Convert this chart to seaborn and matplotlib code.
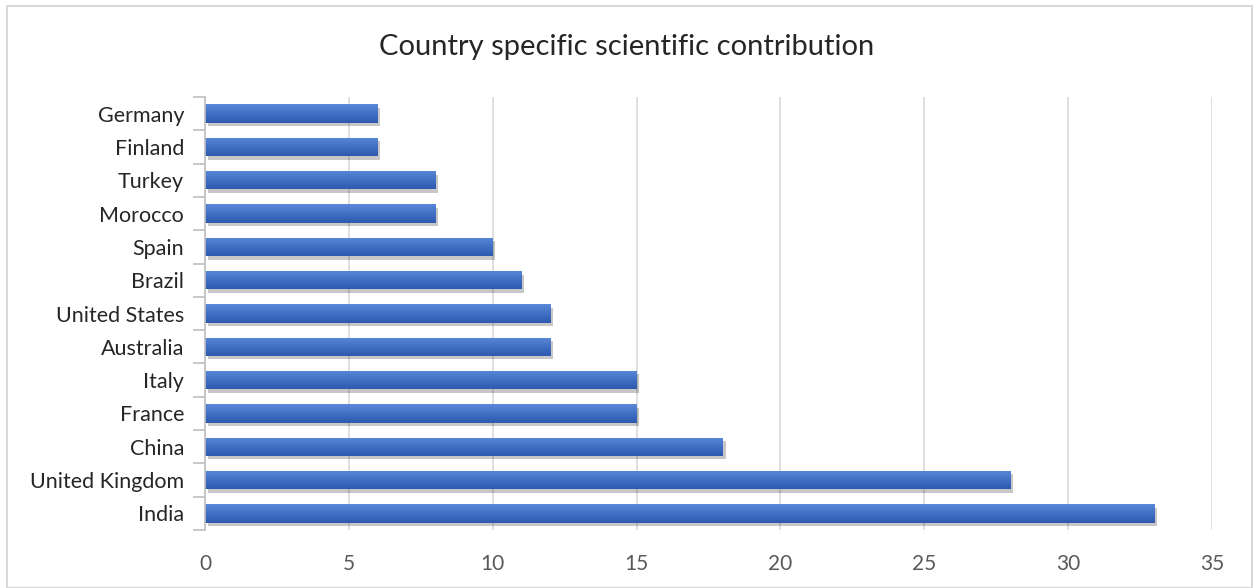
import numpy as np
import pandas as pd
import matplotlib
matplotlib.use("Agg")
import matplotlib.pyplot as plt
import matplotlib.patheffects as pe
from matplotlib.colors import LinearSegmentedColormap
import seaborn as sns

countries = ["Germany", "Finland", "Turkey", "Morocco", "Spain", "Brazil",
             "United States", "Australia", "Italy", "France", "China",
             "United Kingdom", "India"]
contributions = [6, 6, 8, 8, 10, 11, 12, 12, 15, 15, 18, 28, 33]
x_ticks = [0, 5, 10, 15, 20, 25, 30, 35]
title = "Country specific scientific contribution"

df = pd.DataFrame({"country": countries, "contribution": contributions})

sns.set_theme(style="white")
plt.rcParams["font.family"] = ["Lato", "DejaVu Sans"]

fig = plt.figure(figsize=(12.53, 5.88), dpi=100)
ax = fig.add_axes([205 / 1253, 1 - 530 / 588, (1212 - 205) / 1253, (530 - 97) / 588])

sns.barplot(data=df, x="contribution", y="country", orient="h",
            color="#4472C4", width=0.55, saturation=1, linewidth=0, ax=ax)

# gradient fill (lighter on top) + soft shadow on each bar
grad = LinearSegmentedColormap.from_list("g", ["#5B88D7", "#4170C4", "#2E5AAF"])
for p in list(ax.patches):
    p.set_linewidth(0)
    p.set_path_effects([pe.SimplePatchShadow(offset=(2, -2.5), shadow_rgbFace="#000000", alpha=0.22),
                        pe.Normal()])
    x0, y0 = p.get_x(), p.get_y()
    w, h = p.get_width(), p.get_height()
    # y axis is inverted: y0 is the visual top edge
    im = ax.imshow(np.linspace(0, 1, 50).reshape(-1, 1), cmap=grad, aspect="auto",
                   extent=[x0, x0 + w, y0 + h, y0], origin="upper", zorder=p.get_zorder() + 0.1)
    im.set_clip_path(p)

ax.set_xlim(0, 35)
ax.set_ylim(len(countries) - 0.5, -0.5)
ax.set_xticks(x_ticks)
ax.set_xticklabels([str(t) for t in x_ticks])
ax.xaxis.grid(True, color="#D9D9D9", linewidth=1.2)
ax.set_axisbelow(True)

for s in ["top", "right", "bottom"]:
    ax.spines[s].set_visible(False)
ax.spines["left"].set_color("#BFBFBF")
ax.spines["left"].set_linewidth(1.2)

# category separators on the category axis
ax.set_yticks(np.arange(-0.5, len(countries), 1.0), minor=True)
ax.tick_params(axis="y", which="minor", length=9, color="#BFBFBF", width=1.2, left=True)
ax.tick_params(axis="y", which="major", length=0, pad=15, labelsize=15.5, labelcolor="#262626")
ax.tick_params(axis="x", which="major", length=0, pad=17, labelsize=15, labelcolor="#595959")

ax.set_xlabel("")
ax.set_ylabel("")

fig.text(0.5, 1 - 47 / 588, title, ha="center", va="center", fontsize=21, color="#262626")

# outer chart frame
fig.patches.append(plt.Rectangle((7 / 1253, 0), 1 - 8 / 1253, 1 - 6 / 588,
                                 transform=fig.transFigure, fill=False,
                                 edgecolor="#D9D9D9", linewidth=1.5))

fig.savefig("out.png", dpi=100, facecolor="white")
